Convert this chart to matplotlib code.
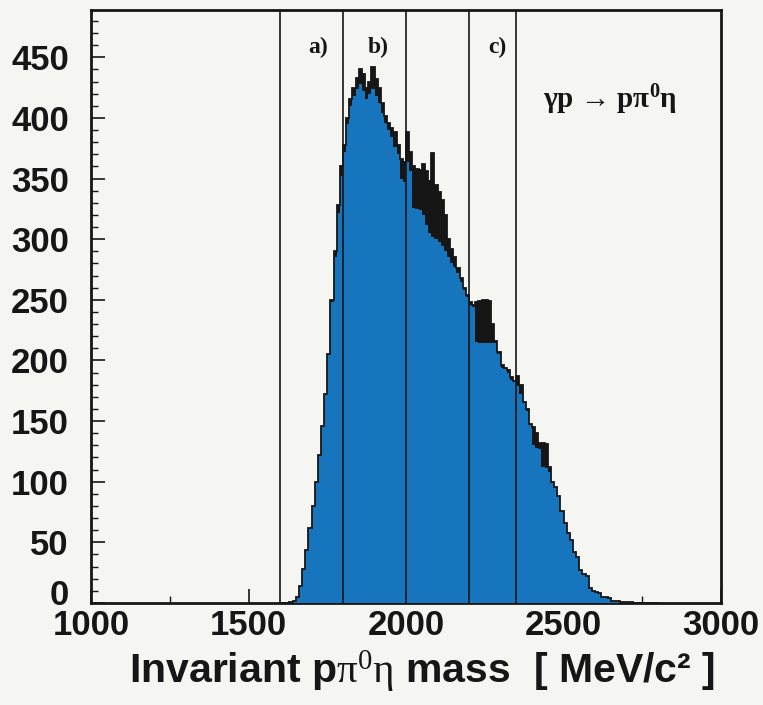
import numpy as np
import matplotlib
matplotlib.use("Agg")
import matplotlib.pyplot as plt
import matplotlib.transforms as mtransforms
from matplotlib.ticker import MultipleLocator

# ---- data (10 MeV bins) ----
bin_lo = 1600
bin_width = 10
# events passing cuts (blue)
blue_counts = [
    0, 0, 0, 1, 2, 5, 14, 28, 44, 62,            # 1600-1690
    80, 100, 122, 146, 172, 205, 248, 285, 322, 352,  # 1700-1790
    372, 395, 410, 418, 424, 428, 422, 416, 420, 424,  # 1800-1890
    418, 412, 404, 396, 390, 384, 376, 370, 350, 347,  # 1900-1990
    364, 356, 326, 325, 324, 320, 312, 305, 302, 300,  # 2000-2090
    298, 294, 290, 285, 280, 277, 272, 265, 258, 252,  # 2100-2190
    246, 244, 215, 214, 214, 214, 214, 214, 214, 205,  # 2200-2290
    194, 193, 190, 184, 182, 179, 172, 165, 158, 147,  # 2300-2390
    130, 128, 127, 112, 111, 108, 100, 96, 88, 76,     # 2400-2490
    66, 58, 52, 42, 38, 26, 24, 22, 12, 10,            # 2500-2590
    9, 8, 5, 5, 4, 2, 2, 2, 1, 1,                      # 2600-2690
    1, 1, 0, 0, 0, 0, 0, 0, 0, 0,                      # 2700-2790
]
# all events (black)
black_counts = [
    0, 0, 0, 1, 2, 5, 14, 28, 44, 62,
    80, 100, 122, 146, 172, 205, 250, 290, 328, 360,
    378, 400, 416, 425, 433, 440, 436, 425, 430, 442,
    432, 425, 412, 402, 396, 392, 388, 378, 366, 364,
    388, 372, 360, 358, 357, 362, 356, 348, 371, 345,
    339, 332, 320, 300, 292, 285, 276, 268, 260, 254,
    248, 246, 248, 249, 250, 250, 249, 230, 216, 207,
    196, 194, 192, 186, 183, 187, 180, 166, 160, 148,
    145, 140, 132, 132, 131, 112, 100, 96, 88, 76,
    66, 58, 52, 42, 38, 27, 24, 22, 12, 10,
    9, 8, 5, 5, 4, 2, 2, 2, 1, 1,
    1, 1, 0, 0, 0, 0, 0, 0, 0, 0,
]
region_lines = [1600, 1800, 2000, 2200, 2350]
region_labels = ["a)", "b)", "c)"]
region_label_x = [1722, 1912, 2290]
reaction = r"γp → pπ$^{\mathbf{0}}$η"
x_ticks = [1000, 1500, 2000, 2500, 3000]
y_ticks = [0, 50, 100, 150, 200, 250, 300, 350, 400, 450]

edges = bin_lo + bin_width * np.arange(len(blue_counts) + 1)

# ---- style ----
plt.rcParams["mathtext.fontset"] = "custom"
plt.rcParams["mathtext.rm"] = "Liberation Serif"
plt.rcParams["mathtext.it"] = "Liberation Serif"
plt.rcParams["mathtext.bf"] = "Liberation Serif:bold"

bg = "#f5f5f2"
blue = "#1675bd"
ink = "#161616"

fig = plt.figure(figsize=(7.63, 7.05), dpi=100, facecolor=bg)
ax = fig.add_axes([91 / 763, 1 - 603 / 705, 630 / 763, 593 / 705], facecolor=bg)

ax.stairs(black_counts, edges, fill=True, color=ink, zorder=2)
ax.stairs(blue_counts, edges, fill=True, color=blue, zorder=3)
ax.stairs(black_counts, edges, fill=False, color=ink, linewidth=1.3, zorder=4)

for xv in region_lines:
    ax.axvline(xv, color=ink, linewidth=1.2, zorder=5)

serif = ["Liberation Serif", "DejaVu Serif"]
for lab, xv in zip(region_labels, region_label_x):
    ax.text(xv, 458, lab, ha="center", va="center", fontsize=17,
            fontweight="bold", family=serif, color=ink, zorder=6)
ax.text(2648, 415, reaction, ha="center", va="center", fontsize=21,
        fontweight="bold", family=serif, color=ink, zorder=6)

ax.set_xlim(1000, 3000)
ax.set_ylim(0, 489)
ax.set_xticks(x_ticks)
ax.set_yticks(y_ticks)
ax.xaxis.set_minor_locator(MultipleLocator(250))
ax.yaxis.set_minor_locator(MultipleLocator(10))

sans = ["Liberation Sans Narrow", "Liberation Sans", "DejaVu Sans"]
ax.tick_params(axis="both", which="major", direction="in", length=10, width=1.2,
               colors=ink, labelsize=25)
ax.tick_params(axis="both", which="minor", direction="in", length=5, width=1.0,
               colors=ink)
ax.tick_params(axis="x", which="major", pad=4)
ax.tick_params(axis="y", which="major", pad=16)
for lab in ax.get_xticklabels() + ax.get_yticklabels():
    lab.set_family(sans)
    lab.set_fontweight("bold")

# lift the "0" label slightly so it sits above the x labels, as in the original
ylabels = ax.get_yticklabels()
ylabels[0].set_transform(ylabels[0].get_transform() +
                         mtransforms.ScaledTranslation(0, 8 / 72, fig.dpi_scale_trans))

for sp in ax.spines.values():
    sp.set_linewidth(2.0)
    sp.set_color(ink)

ax.set_xlabel(r"Invariant p$\mathrm{\pi}^{\mathrm{0}}\mathrm{\eta}$ mass  [ MeV/c² ]",
              fontsize=29.5, fontweight="bold", family=sans, color=ink)
ax.xaxis.set_label_coords(0.525, -0.078, transform=ax.transAxes)
ax.xaxis.label.set_va("top")

fig.savefig("out.png", dpi=100, facecolor=bg)
